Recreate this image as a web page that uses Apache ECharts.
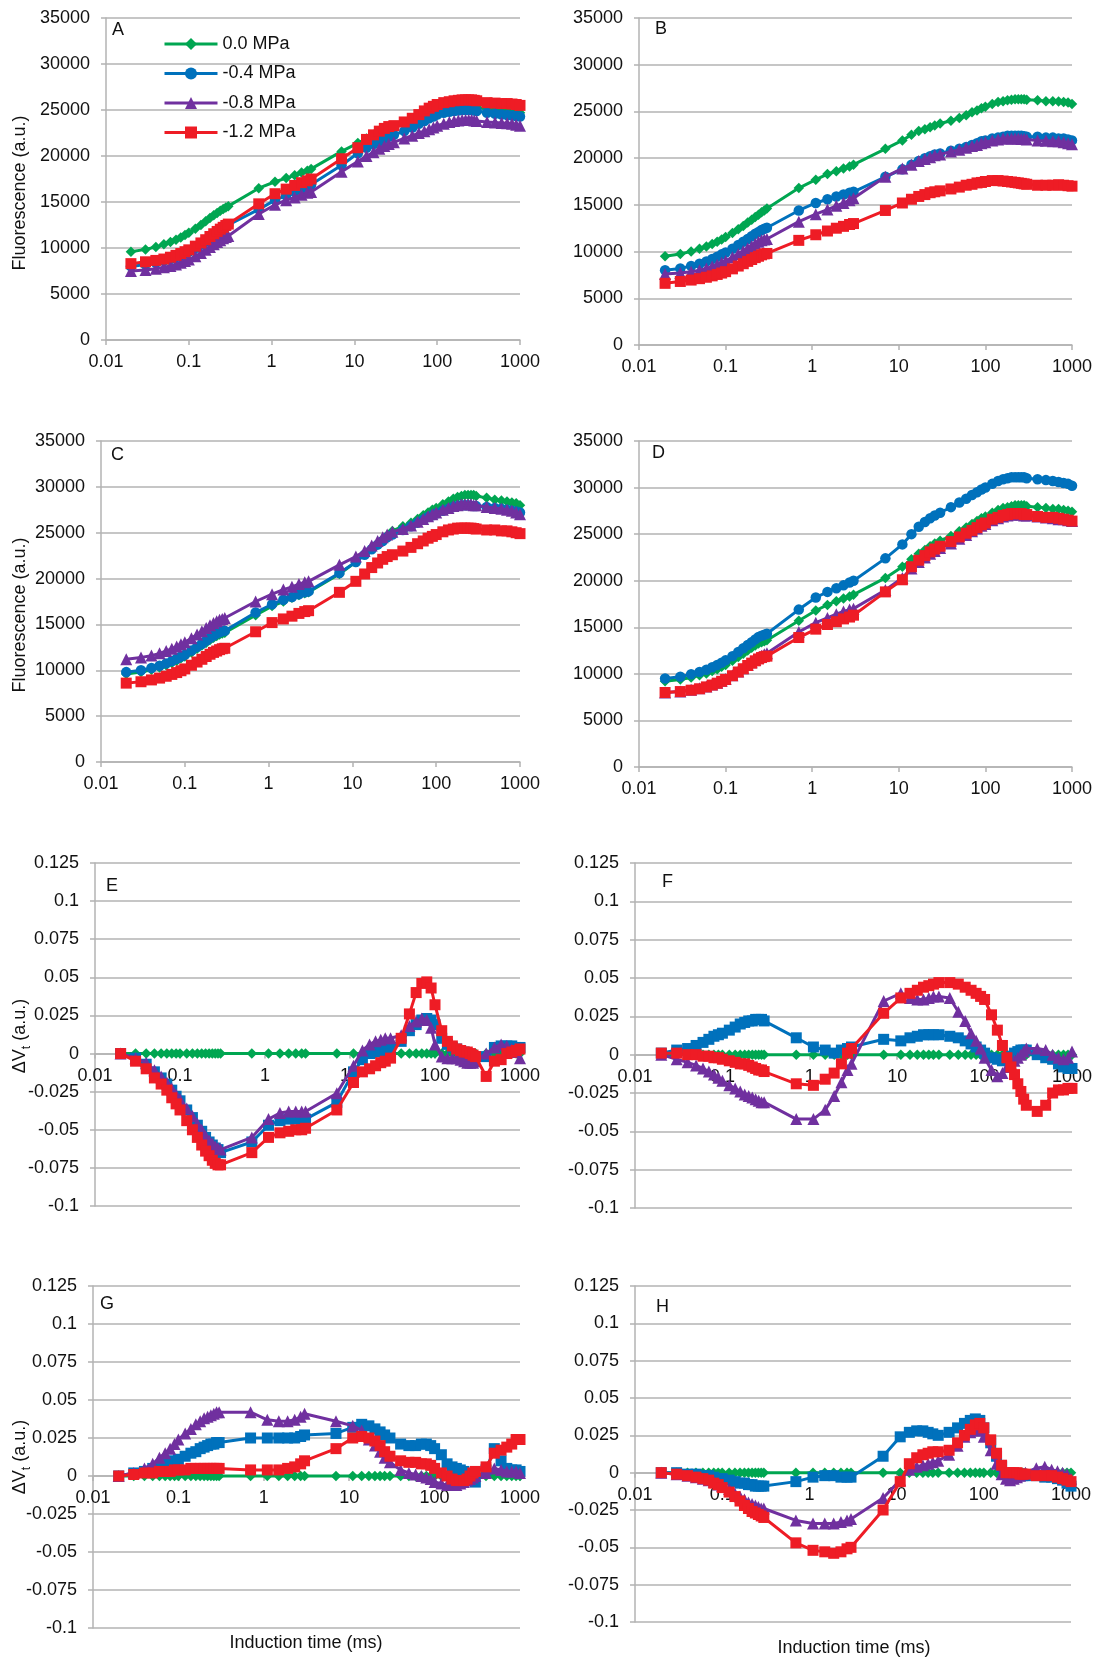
<!DOCTYPE html>
<html>
<head>
<meta charset="utf-8">
<title>OJIP transients and difference kinetics</title>
<script src="https://cdn.jsdelivr.net/npm/echarts@6.0.0/dist/echarts.min.js"></script>
<style>
html, body { margin: 0; padding: 0; background: #fff; }
#chart { width: 1096px; height: 1658px; }
</style>
</head>
<body>
<div id="chart"></div>
<script>
// induction time points (ms)
var times = [
  0.02, 0.03, 0.04, 0.05, 0.06, 0.07, 0.08, 0.09, 0.1, 0.12,
  0.14, 0.16, 0.18, 0.2, 0.22, 0.24, 0.26, 0.28, 0.3,
  0.7, 1.1, 1.5, 1.9, 2.3, 2.7, 3, 7, 11,
  14, 17, 20, 23, 26, 30, 40, 50, 60, 70, 80, 90, 100,
  120, 140, 160, 180, 200, 220, 240, 260, 280, 300,
  400, 500, 600, 700, 800, 900, 1000
];
var seriesNames = ["0.0 MPa", "-0.4 MPa", "-0.8 MPa", "-1.2 MPa"];
var timeTicks = [0.01, 0.1, 1, 10, 100, 1000];
var fluoTicks = [0, 5000, 10000, 15000, 20000, 25000, 30000, 35000];
var dvTicks = [-0.1, -0.075, -0.05, -0.025, 0, 0.025, 0.05, 0.075, 0.1, 0.125];
var panelLetters = ["A", "B", "C", "D", "E", "F", "G", "H"];

/**
 * fluorescence (a.u.), panels A-D
 */
var fluoA_00 = [
  9600, 9850, 10100, 10400, 10650, 10900, 11150, 11400, 11650, 12100,
  12500, 12900, 13250, 13550, 13800, 14050, 14250, 14400, 14550,
  16500, 17200, 17600, 17900, 18200, 18400, 18600, 20500, 21400,
  21900, 22300, 22600, 22800, 23000, 23200, 23500, 23800, 24100, 24400, 24600, 24800, 25000,
  25200, 25300, 25400, 25400, 25400, 25400, 25400, 25350, 25300, 25300,
  25100, 25000, 24950, 24900, 24850, 24800, 24700
];
var fluoA_04 = [
  8000, 8200, 8400, 8600, 8800, 9000, 9200, 9400, 9600, 10000,
  10350, 10700, 11000, 11300, 11600, 11850, 12100, 12300, 12500,
  14200, 15200, 15700, 16100, 16400, 16700, 16900, 19000, 20300,
  20900, 21300, 21600, 21900, 22100, 22300, 22700, 23100, 23500, 23800, 24100, 24300, 24500,
  24700, 24800, 24900, 24950, 25000, 25000, 25000, 25000, 24950, 24900,
  24700, 24600, 24500, 24450, 24400, 24350, 24300
];
var fluoA_08 = [
  7500, 7600, 7750, 7900, 8050, 8200, 8400, 8600, 8750, 9100,
  9450, 9800, 10100, 10400, 10650, 10850, 11050, 11200, 11300,
  13700, 14700, 15200, 15500, 15800, 16000, 16100, 18300, 19400,
  20000, 20400, 20800, 21100, 21300, 21500, 21900, 22200, 22500, 22700, 22900, 23100, 23300,
  23500, 23700, 23800, 23850, 23900, 23900, 23900, 23900, 23850, 23800,
  23700, 23650, 23600, 23550, 23500, 23400, 23300
];
var fluoA_12 = [
  8300, 8500, 8650, 8800, 9000, 9200, 9400, 9600, 9800, 10200,
  10550, 10900, 11250, 11550, 11800, 12050, 12250, 12450, 12600,
  14800, 15900, 16400, 16800, 17100, 17300, 17500, 19700, 20900,
  21800, 22300, 22700, 23000, 23200, 23300, 23700, 24100, 24500, 24900, 25200, 25400, 25600,
  25800, 25900, 26000, 26050, 26100, 26100, 26100, 26100, 26050, 26000,
  25800, 25750, 25700, 25700, 25650, 25600, 25500
];

var fluoB_00 = [
  9500, 9750, 10000, 10300, 10550, 10800, 11050, 11300, 11550, 12000,
  12400, 12750, 13100, 13400, 13700, 13950, 14200, 14400, 14600,
  16800, 17700, 18300, 18600, 18900, 19100, 19300, 21000, 21900,
  22500, 22900, 23100, 23300, 23500, 23700, 24000, 24300, 24600, 24900, 25100, 25350, 25500,
  25800, 26000, 26100, 26200, 26250, 26300, 26300, 26300, 26300, 26250,
  26200, 26100, 26100, 26050, 26000, 25950, 25800
];
var fluoB_04 = [
  8000, 8200, 8450, 8700, 8950, 9200, 9450, 9700, 9900, 10300,
  10700, 11050, 11350, 11650, 11900, 12100, 12300, 12450, 12550,
  14400, 15200, 15600, 15900, 16100, 16300, 16400, 18000, 18800,
  19300, 19700, 20000, 20200, 20400, 20500, 20800, 21000, 21200, 21400, 21600, 21800, 21900,
  22100, 22200, 22300, 22400, 22400, 22400, 22400, 22400, 22350, 22300,
  22300, 22200, 22200, 22100, 22100, 22000, 21900
];
var fluoB_08 = [
  7600, 7700, 7850, 8000, 8200, 8400, 8600, 8800, 9000, 9400,
  9750, 10050, 10350, 10600, 10850, 11050, 11200, 11300, 11350,
  13200, 14000, 14500, 14900, 15200, 15500, 15700, 18000, 18900,
  19300, 19700, 19900, 20100, 20300, 20400, 20700, 20900, 21100, 21300, 21400, 21600, 21700,
  21900, 22000, 22100, 22100, 22100, 22100, 22100, 22050, 22050, 22000,
  21900, 21850, 21800, 21800, 21700, 21600, 21500
];
var fluoB_12 = [
  6600, 6800, 6950, 7100, 7250, 7400, 7550, 7700, 7850, 8150,
  8450, 8700, 8950, 9150, 9350, 9500, 9650, 9750, 9800,
  11200, 11800, 12200, 12500, 12700, 12900, 13000, 14400, 15200,
  15600, 15900, 16100, 16300, 16400, 16500, 16700, 16900, 17100, 17200, 17350, 17400, 17500,
  17600, 17600, 17550, 17500, 17450, 17400, 17350, 17300, 17250, 17200,
  17100, 17100, 17100, 17150, 17100, 17050, 17000
];

var fluoC_00 = [
  9600, 9800, 10050, 10300, 10550, 10800, 11050, 11300, 11500, 11950,
  12350, 12700, 13000, 13300, 13550, 13750, 13900, 14000, 14100,
  16000, 17000, 17500, 17900, 18200, 18400, 18500, 20500, 21800,
  22700, 23300, 23800, 24300, 24700, 25200, 25700, 26100, 26500, 26900, 27200, 27500, 27700,
  28100, 28400, 28700, 28900, 29000, 29100, 29100, 29100, 29100, 29000,
  28800, 28600, 28500, 28400, 28300, 28200, 28000
];
var fluoC_04 = [
  9800, 10000, 10250, 10500, 10750, 11000, 11250, 11500, 11700, 12150,
  12550, 12900, 13250, 13550, 13800, 14000, 14150, 14250, 14300,
  16300, 17200, 17700, 18000, 18300, 18500, 18600, 20600, 21800,
  22600, 23200, 23700, 24100, 24500, 24800, 25300, 25700, 26100, 26400, 26700, 26900, 27100,
  27400, 27600, 27800, 27900, 28000, 28000, 28000, 27950, 27900, 27900,
  27800, 27700, 27600, 27500, 27400, 27300, 27200
];
var fluoC_08 = [
  11200, 11400, 11600, 11850, 12100, 12350, 12600, 12850, 13050, 13500,
  13900, 14250, 14600, 14900, 15150, 15350, 15500, 15600, 15700,
  17500, 18300, 18800, 19100, 19400, 19600, 19700, 21500, 22400,
  23000, 23600, 24100, 24500, 24800, 25100, 25400, 25800, 26200, 26500, 26800, 27000, 27200,
  27500, 27700, 27900, 28000, 28100, 28100, 28100, 28100, 28000, 28000,
  27800, 27700, 27600, 27500, 27400, 27200, 27000
];
var fluoC_12 = [
  8600, 8750, 8950, 9150, 9350, 9550, 9750, 9950, 10150, 10550,
  10900, 11200, 11500, 11750, 11950, 12100, 12250, 12350, 12400,
  14200, 15200, 15600, 15900, 16200, 16400, 16500, 18500, 19700,
  20500, 21200, 21700, 22100, 22400, 22600, 23000, 23400, 23800, 24100, 24400, 24600, 24800,
  25100, 25300, 25400, 25500, 25500, 25500, 25500, 25500, 25450, 25400,
  25300, 25300, 25200, 25200, 25100, 25000, 24900
];

var fluoD_00 = [
  9200, 9400, 9600, 9850, 10050, 10300, 10500, 10750, 10950, 11400,
  11800, 12150, 12500, 12800, 13050, 13250, 13400, 13500, 13600,
  15700, 16800, 17400, 17800, 18100, 18300, 18500, 20300, 21500,
  22300, 22900, 23300, 23700, 24000, 24300, 24800, 25300, 25700, 26100, 26400, 26700, 26900,
  27300, 27600, 27800, 27900, 28000, 28100, 28100, 28100, 28100, 28000,
  27900, 27800, 27700, 27700, 27600, 27500, 27400
];
var fluoD_04 = [
  9500, 9700, 9950, 10200, 10450, 10700, 10950, 11200, 11450, 11900,
  12350, 12750, 13100, 13400, 13700, 13950, 14100, 14200, 14300,
  16900, 18200, 18800, 19200, 19500, 19800, 20000, 22400, 23900,
  25000, 25800, 26300, 26700, 27000, 27300, 27900, 28400, 28800, 29200, 29500, 29800, 30000,
  30400, 30700, 30900, 31000, 31100, 31100, 31100, 31100, 31100, 31000,
  30900, 30800, 30700, 30600, 30500, 30400, 30200
];
var fluoD_08 = [
  8000, 8100, 8300, 8450, 8650, 8850, 9050, 9250, 9450, 9850,
  10250, 10600, 10950, 11250, 11500, 11750, 11950, 12100, 12200,
  14500, 15500, 16000, 16400, 16700, 16900, 17000, 19000, 20300,
  21300, 22000, 22500, 22900, 23200, 23500, 24000, 24500, 24900, 25300, 25600, 25900, 26100,
  26500, 26700, 26900, 27000, 27100, 27100, 27100, 27100, 27000, 27000,
  26900, 26800, 26700, 26600, 26600, 26500, 26400
];
var fluoD_12 = [
  8000, 8100, 8250, 8400, 8600, 8800, 9000, 9200, 9400, 9800,
  10200, 10550, 10900, 11150, 11400, 11600, 11750, 11850, 11900,
  13900, 14800, 15300, 15600, 15900, 16100, 16300, 18800, 20100,
  21500, 22200, 22700, 23100, 23400, 23700, 24200, 24700, 25100, 25400, 25700, 26000, 26200,
  26600, 26800, 27000, 27100, 27200, 27200, 27200, 27200, 27100, 27100,
  26900, 26800, 26800, 26700, 26600, 26500, 26400
];

/**
 * difference kinetics dVt (a.u.), panels E-H; control is the zero line
 */
var dvControl = [
  0, 0, 0, 0, 0, 0, 0, 0, 0, 0,
  0, 0, 0, 0, 0, 0, 0, 0, 0,
  0, 0, 0, 0, 0, 0, 0, 0, 0,
  0, 0, 0, 0, 0, 0, 0, 0, 0, 0, 0, 0, 0,
  0, 0, 0, 0, 0, 0, 0, 0, 0, 0,
  0, 0, 0, 0, 0, 0, 0
];

var dvE_04 = [
  0, -0.003, -0.007, -0.012, -0.016, -0.02, -0.024, -0.028, -0.031, -0.037,
  -0.042, -0.047, -0.051, -0.055, -0.058, -0.06, -0.062, -0.063, -0.065,
  -0.058, -0.047, -0.044, -0.043, -0.043, -0.043, -0.043, -0.032, -0.012,
  -0.004, 0, 0.001, 0.002, 0.003, 0.004, 0.008, 0.015, 0.019, 0.022, 0.023, 0.022, 0.019,
  0.01, 0.006, 0.004, 0.003, 0.002, 0.001, 0, -0.001, -0.002, -0.002,
  -0.002, 0.004, 0.005, 0.005, 0.005, 0.004, 0.004
];
var dvE_08 = [
  0, -0.003, -0.006, -0.011, -0.015, -0.019, -0.023, -0.027, -0.03, -0.036,
  -0.041, -0.046, -0.05, -0.054, -0.057, -0.059, -0.061, -0.062, -0.063,
  -0.055, -0.043, -0.039, -0.038, -0.038, -0.038, -0.038, -0.026, -0.008,
  0.002, 0.006, 0.008, 0.009, 0.01, 0.01, 0.012, 0.018, 0.021, 0.023, 0.022, 0.017, 0.006,
  -0.002, -0.003, -0.003, -0.003, -0.004, -0.005, -0.006, -0.006, -0.006, -0.005,
  0, 0.004, 0.006, 0.005, 0.003, 0.001, -0.003
];
var dvE_12 = [
  0, -0.005, -0.01, -0.016, -0.02, -0.024, -0.029, -0.033, -0.037, -0.044,
  -0.05, -0.055, -0.06, -0.064, -0.067, -0.07, -0.072, -0.073, -0.073,
  -0.065, -0.055, -0.052, -0.051, -0.05, -0.05, -0.049, -0.037, -0.019,
  -0.012, -0.01, -0.008, -0.006, -0.005, -0.003, 0.01, 0.026, 0.04, 0.046, 0.047, 0.043, 0.032,
  0.015, 0.008, 0.005, 0.003, 0.002, 0.001, 0.001, 0, -0.001, -0.002,
  -0.015, -0.005, -0.004, 0, 0.001, 0.002, 0.003
];

var dvF_04 = [
  0.001, 0.003, 0.004, 0.006, 0.008, 0.01, 0.012, 0.013, 0.014, 0.016,
  0.018, 0.02, 0.021, 0.022, 0.022, 0.023, 0.023, 0.023, 0.022,
  0.011, 0.005, 0.003, 0.001, 0.003, 0.004, 0.005, 0.01, 0.009,
  0.011, 0.012, 0.013, 0.013, 0.013, 0.013, 0.012, 0.011, 0.009, 0.007, 0.005, 0.003, 0.001,
  -0.002, -0.003, -0.004, -0.003, -0.001, 0.001, 0.002, 0.003, 0.003, 0.003,
  0, -0.002, -0.003, -0.006, -0.008, -0.009, -0.009
];
var dvF_08 = [
  0, -0.003, -0.005, -0.007, -0.009, -0.011, -0.013, -0.015, -0.017, -0.02,
  -0.022, -0.024, -0.026, -0.027, -0.028, -0.029, -0.03, -0.031, -0.031,
  -0.042, -0.042, -0.036, -0.027, -0.018, -0.01, -0.006, 0.035, 0.04,
  0.037, 0.036, 0.036, 0.037, 0.038, 0.038, 0.037, 0.028, 0.022, 0.014, 0.009, 0.004, -0.002,
  -0.01, -0.014, -0.012, -0.008, -0.006, -0.004, -0.002, 0, 0.002, 0.004,
  0.004, 0.003, 0, -0.002, -0.003, -0.002, 0.002
];
var dvF_12 = [
  0.001, 0.001, 0, 0, -0.001, -0.001, -0.002, -0.002, -0.003, -0.004,
  -0.005, -0.006, -0.006, -0.007, -0.008, -0.009, -0.01, -0.01, -0.011,
  -0.019, -0.02, -0.016, -0.012, -0.006, 0.001, 0.004, 0.027, 0.037,
  0.04, 0.042, 0.044, 0.045, 0.046, 0.047, 0.047, 0.046, 0.044, 0.042, 0.04, 0.038, 0.036,
  0.026, 0.016, 0.006, -0.002, -0.008, -0.013, -0.019, -0.024, -0.029, -0.033,
  -0.037, -0.033, -0.025, -0.023, -0.023, -0.022, -0.022
];

var dvG_04 = [
  0, 0.002, 0.003, 0.005, 0.006, 0.008, 0.009, 0.01, 0.011, 0.013,
  0.015, 0.016, 0.018, 0.019, 0.02, 0.021, 0.021, 0.022, 0.022,
  0.025, 0.025, 0.025, 0.025, 0.025, 0.026, 0.027, 0.028, 0.032,
  0.034, 0.033, 0.031, 0.029, 0.027, 0.025, 0.021, 0.02, 0.02, 0.021, 0.021, 0.02, 0.018,
  0.014, 0.008, 0.006, 0.005, 0.004, 0.003, 0.001, -0.001, -0.003, -0.004,
  0.004, 0.018, 0.01, 0.005, 0.004, 0.004, 0.003
];
var dvG_08 = [
  0, 0.002, 0.005, 0.008, 0.012, 0.015, 0.018, 0.021, 0.024, 0.028,
  0.031, 0.034, 0.036, 0.038, 0.039, 0.04, 0.041, 0.042, 0.042,
  0.042, 0.037, 0.036, 0.036, 0.037, 0.039, 0.041, 0.036, 0.033,
  0.03, 0.024, 0.02, 0.016, 0.012, 0.009, 0.004, 0.002, 0.001, 0, -0.001, -0.002, -0.004,
  -0.005, -0.006, -0.006, -0.006, -0.005, -0.004, -0.003, -0.002, -0.001, 0,
  0.002, 0.005, 0.004, 0.003, 0.003, 0.003, 0.002
];
var dvG_12 = [
  0, 0.001, 0.002, 0.002, 0.003, 0.003, 0.003, 0.004, 0.004, 0.004,
  0.005, 0.005, 0.005, 0.005, 0.005, 0.005, 0.005, 0.005, 0.005,
  0.004, 0.004, 0.004, 0.005, 0.006, 0.008, 0.01, 0.018, 0.025,
  0.026, 0.025, 0.023, 0.02, 0.016, 0.013, 0.01, 0.009, 0.009, 0.008, 0.008, 0.007, 0.005,
  0.002, 0, -0.002, -0.003, -0.003, -0.003, -0.002, 0, 0.002, 0.003,
  0.006, 0.015, 0.017, 0.019, 0.021, 0.024, 0.024
];

var dvH_04 = [
  0, 0, -0.001, -0.001, -0.002, -0.002, -0.003, -0.004, -0.004, -0.005,
  -0.006, -0.007, -0.007, -0.008, -0.008, -0.009, -0.009, -0.009, -0.009,
  -0.006, -0.003, -0.002, -0.002, -0.003, -0.003, -0.003, 0.011, 0.024,
  0.027, 0.028, 0.028, 0.027, 0.026, 0.025, 0.027, 0.03, 0.033, 0.035, 0.036, 0.035, 0.03,
  0.02, 0.011, 0.004, -0.001, -0.002, -0.002, -0.002, -0.002, -0.002, -0.002,
  -0.002, -0.003, -0.003, -0.004, -0.005, -0.007, -0.009
];
var dvH_08 = [
  0, -0.001, -0.002, -0.003, -0.004, -0.005, -0.006, -0.008, -0.009, -0.011,
  -0.014, -0.016, -0.018, -0.02, -0.021, -0.022, -0.023, -0.024, -0.024,
  -0.032, -0.034, -0.034, -0.034, -0.033, -0.032, -0.031, -0.017, -0.005,
  0.002, 0.004, 0.005, 0.006, 0.007, 0.008, 0.012, 0.018, 0.024, 0.027, 0.029, 0.028, 0.024,
  0.015, 0.006, -0.001, -0.004, -0.005, -0.004, -0.003, -0.002, -0.001, 0,
  0.003, 0.004, 0.002, 0.001, 0, -0.001, -0.004
];
var dvH_12 = [
  0, -0.001, -0.002, -0.003, -0.004, -0.005, -0.007, -0.008, -0.01, -0.013,
  -0.016, -0.019, -0.022, -0.024, -0.026, -0.027, -0.028, -0.029, -0.03,
  -0.047, -0.052, -0.053, -0.054, -0.053, -0.051, -0.05, -0.025, -0.006,
  0.006, 0.01, 0.012, 0.013, 0.014, 0.014, 0.015, 0.02, 0.025, 0.029, 0.032, 0.033, 0.03,
  0.022, 0.013, 0.005, 0, 0, 0, 0, -0.001, -0.001, -0.001,
  -0.002, -0.002, -0.002, -0.003, -0.004, -0.005, -0.006
];

var panelData = [
  [fluoA_00, fluoA_04, fluoA_08, fluoA_12],
  [fluoB_00, fluoB_04, fluoB_08, fluoB_12],
  [fluoC_00, fluoC_04, fluoC_08, fluoC_12],
  [fluoD_00, fluoD_04, fluoD_08, fluoD_12],
  [dvControl, dvE_04, dvE_08, dvE_12],
  [dvControl, dvF_04, dvF_08, dvF_12],
  [dvControl, dvG_04, dvG_08, dvG_12],
  [dvControl, dvH_04, dvH_08, dvH_12]
];

// layout: plot area of each panel, [left, top, width, height] in px
var panelBoxes = [
  [106, 18, 414, 322],
  [639, 18, 433, 327],
  [101, 441, 419, 321],
  [639, 441, 433, 326],
  [95, 863, 425, 343],
  [635, 863, 437, 345],
  [93, 1286, 427, 342],
  [635, 1286, 436, 336]
];
var letterPos = [[112, 30], [655, 29], [111, 455], [652, 453], [106, 886], [662, 882], [100, 1304], [656, 1307]];

var colors = ["#00a651", "#0071bc", "#70309f", "#ee1c25"];
var fluoSymbols = ["diamond", "circle", "triangle", "rect"];
var dvSymbols = ["diamond", "rect", "triangle", "rect"];
var symbolSizes = { diamond: 10.5, circle: 10.5, triangle: 12, rect: 11 };
var fontFamily = "'Liberation Sans', Arial, sans-serif";
var gridGray = "#b3b3b3";

var myChart = echarts.init(document.getElementById("chart"));

function pts(vals) {
  return vals.map(function (v, i) { return [times[i], v]; });
}

function fmtNum(v) {
  var r = Math.round(Number(v) * 1e9) / 1e9;
  return String(r === 0 ? 0 : r);
}

var grids = [];
var xAxes = [];
var yAxes = [];
var series = [];
var graphics = [];

for (var p = 0; p < 8; p++) {
  var box = panelBoxes[p];
  var isDv = p >= 4;
  var ticks = isDv ? dvTicks : fluoTicks;
  var yMin = ticks[0];
  var yMax = ticks[ticks.length - 1];
  grids.push({ left: box[0], top: box[1], width: box[2], height: box[3] });

  // the time axis sits on the zero line of the value axis
  var zeroShift = -box[3] * (0 - yMin) / (yMax - yMin);

  xAxes.push({
    type: "log",
    logBase: 10,
    gridIndex: p,
    min: timeTicks[0],
    max: timeTicks[timeTicks.length - 1],
    offset: zeroShift,
    axisLine: { show: true, onZero: false, lineStyle: { color: gridGray, width: 1.5 } },
    axisTick: { show: true, length: 5, lineStyle: { color: gridGray, width: 1.5 } },
    minorTick: { show: false },
    splitLine: { show: false },
    axisLabel: {
      margin: 13,
      color: "#111",
      fontSize: 18,
      fontFamily: fontFamily,
      formatter: fmtNum
    }
  });

  yAxes.push({
    type: "value",
    gridIndex: p,
    min: yMin,
    max: yMax,
    interval: ticks[1] - ticks[0],
    axisLine: { show: true, onZero: false, lineStyle: { color: gridGray, width: 1.5 } },
    axisTick: { show: true, length: 5, lineStyle: { color: gridGray, width: 1.5 } },
    splitLine: { show: true, lineStyle: { color: gridGray, width: 1.5 } },
    axisLabel: {
      margin: 16,
      color: "#111",
      fontSize: 18,
      fontFamily: fontFamily,
      formatter: fmtNum
    }
  });

  for (var s = 0; s < 4; s++) {
    var sym = isDv ? dvSymbols[s] : fluoSymbols[s];
    series.push({
      name: seriesNames[s],
      type: "line",
      xAxisIndex: p,
      yAxisIndex: p,
      data: pts(panelData[p][s]),
      symbol: sym,
      symbolSize: symbolSizes[sym],
      showAllSymbol: true,
      color: colors[s],
      lineStyle: { color: colors[s], width: 3 },
      itemStyle: { color: colors[s] },
      emphasis: { disabled: true },
      z: 2 + s
    });
  }

  graphics.push({
    type: "text",
    left: letterPos[p][0],
    top: letterPos[p][1] - 9,
    style: { text: panelLetters[p], fill: "#111", font: "18px " + fontFamily }
  });
}

// axis titles
graphics.push({
  type: "text", x: 20, y: 193, rotation: Math.PI / 2,
  style: { text: "Fluorescence (a.u.)", fill: "#111", font: "18px " + fontFamily, align: "center", verticalAlign: "middle" }
});
graphics.push({
  type: "text", x: 20, y: 615, rotation: Math.PI / 2,
  style: { text: "Fluorescence (a.u.)", fill: "#111", font: "18px " + fontFamily, align: "center", verticalAlign: "middle" }
});
[[19, 1036], [19, 1457]].forEach(function (pos) {
  graphics.push({
    type: "text", x: pos[0], y: pos[1], rotation: Math.PI / 2,
    style: {
      text: "{a|ΔV}{b|t}{a| (a.u.)}",
      fill: "#111",
      align: "center",
      verticalAlign: "middle",
      rich: {
        a: { fontSize: 18, fontFamily: fontFamily, fill: "#111", lineHeight: 20, verticalAlign: "bottom" },
        b: { fontSize: 12, fontFamily: fontFamily, fill: "#111", lineHeight: 20, verticalAlign: "bottom", padding: [0, 0, -4, 0] }
      }
    }
  });
});
[[306, 1643], [854, 1648]].forEach(function (pos) {
  graphics.push({
    type: "text", x: pos[0], y: pos[1],
    style: { text: "Induction time (ms)", fill: "#111", font: "18px " + fontFamily, align: "center", verticalAlign: "middle" }
  });
});

var option = {
  animation: false,
  backgroundColor: "#fff",
  legend: {
    data: seriesNames,
    orient: "vertical",
    left: 158,
    top: 30,
    padding: 5,
    itemWidth: 53,
    itemHeight: 15,
    itemGap: 11.5,
    selectedMode: false,
    lineStyle: { width: 3 },
    textStyle: { fontSize: 18, lineHeight: 17, color: "#111", fontFamily: fontFamily }
  },
  grid: grids,
  xAxis: xAxes,
  yAxis: yAxes,
  series: series,
  graphic: graphics
};

myChart.setOption(option);
</script>
</body>
</html>
